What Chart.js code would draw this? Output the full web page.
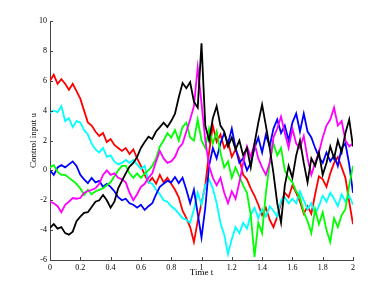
<!DOCTYPE html>
<html>
<head>
<meta charset="utf-8">
<script src="https://cdn.jsdelivr.net/npm/chart.js@4.4.1/dist/chart.umd.min.js"></script>
<style>
html,body{margin:0;padding:0;background:#fff;}
#c{display:block;}
</style>
</head>
<body>
<canvas id="c" width="390" height="293"></canvas>
<script>
const times = [0,0.025,0.05,0.075,0.1,0.125,0.15,0.175,0.2,0.225,0.25,0.275,0.3,0.325,0.35,0.375,0.4,0.425,0.45,0.475,0.5,0.525,0.55,0.575,0.6,0.625,0.65,0.675,0.7,0.725,0.75,0.775,0.8,0.825,0.85,0.875,0.9,0.925,0.95,0.975,1,1.025,1.05,1.075,1.1,1.125,1.15,1.175,1.2,1.225,1.25,1.275,1.3,1.325,1.35,1.375,1.4,1.425,1.45,1.475,1.5,1.525,1.55,1.575,1.6,1.625,1.65,1.675,1.7,1.725,1.75,1.775,1.8,1.825,1.85,1.875,1.9,1.925,1.95,1.975,2];

const redU = [6.0,6.4,5.8,6.1,5.8,5.4,5.8,5.3,4.8,4.0,3.2,3.0,2.6,2.3,2.5,1.9,2.1,1.7,1.5,1.3,1.5,1.1,1.4,0.8,0.3,-0.3,-0.8,-0.5,-0.9,-0.3,-0.8,-0.5,-0.9,-1.3,-1.8,-2.7,-3.2,-3.8,-4.8,-3.4,-2.2,
 -1.0,1.2,3.0,1.9,2.4,1.5,1.9,0.9,1.4,0.8,-0.3,-0.6,-1.2,-1.7,-2.3,-3.0,-2.5,-3.3,-3.8,-3.1,-2.2,-1.5,-1.8,-1.0,-1.5,-2.1,-2.9,-2.4,-2.9,-1.6,-0.4,-0.6,-1.1,-0.2,0.5,0.9,0.2,-0.5,-2.1,-3.6];

const cyanU = [3.9,4.0,3.9,4.3,3.3,3.5,2.9,3.3,3.2,2.7,2.4,1.8,1.4,1.2,1.5,0.9,1.0,0.6,0.4,0.5,0.7,0.5,0.7,0.4,0.1,0.3,-0.8,-0.9,-1.3,-1.6,-2.0,-2.1,-2.4,-2.6,-2.9,-3.2,-3.3,-3.5,-2.6,-1.5,-2.3,
 -1.0,-0.6,-1.2,-2.2,-3.5,-4.3,-5.6,-4.6,-3.8,-4.2,-3.5,-3.9,-3.0,-2.5,-3.2,-2.6,-3.1,-2.4,-2.7,-3.1,-2.0,-1.8,-2.2,-1.9,-2.2,-1.4,-2.0,-2.6,-2.2,-2.9,-2.4,-1.7,-2.1,-1.5,-1.9,-2.4,-1.6,-2.1,-1.7,-2.3];

const blueU = [0.0,-0.3,0.2,0.35,0.2,0.4,0.6,0.3,-0.3,-0.6,-0.85,-0.5,-0.8,-0.7,-1.1,-0.9,-1.1,-1.4,-1.8,-2.0,-1.9,-2.2,-2.3,-2.5,-2.3,-2.65,-2.4,-2.2,-1.6,-1.1,-0.9,-0.7,-0.8,-0.45,-0.85,-0.5,-1.3,-2.2,-1.3,-2.9,-4.5,
 -2.5,0.3,1.5,0.8,1.8,2.5,1.8,2.8,1.5,0.5,0.8,0.0,0.5,1.5,2.2,1.2,2.4,1.6,2.8,3.4,2.5,3.0,2.0,3.2,3.8,2.6,3.8,2.6,2.2,1.5,0.9,0.5,1.2,0.6,1.0,0.3,1.5,1.8,0.4,-1.5];

const magentaU = [-2.1,-2.2,-2.4,-2.8,-2.3,-2.1,-1.85,-1.9,-1.85,-1.5,-1.4,-1.3,-1.2,-0.9,-0.3,0.0,-0.3,-0.2,-0.5,-0.6,-0.8,-1.5,-2.0,-1.6,-1.1,-0.9,-0.5,-0.2,0.6,1.3,0.8,0.5,0.6,0.9,1.5,1.8,2.6,3.4,4.3,6.9,4.5,
 2.0,0.3,-0.5,-1.0,-0.5,-1.5,-2.2,-1.4,-1.9,-0.8,0.5,1.6,0.9,1.8,0.8,0.2,-0.3,0.5,2.2,2.8,3.6,2.5,1.5,2.8,1.8,1.5,2.3,0.8,-0.3,0.5,1.2,2.2,3.0,3.4,4.2,3.0,3.3,2.0,1.6,1.8];

const greenU = [0.2,0.35,-0.1,-0.3,-0.3,-0.5,-0.7,-0.9,-1.2,-1.65,-1.3,-1.6,-1.4,-1.3,-1.2,-1.0,-0.8,-0.4,0.0,0.3,0.3,-0.2,-0.5,-0.2,-0.5,-0.2,0.0,0.3,0.8,1.6,2.0,2.5,2.2,2.7,2.0,2.9,3.2,2.2,2.0,3.4,2.0,
 1.5,2.8,1.8,2.6,1.2,0.2,0.6,-0.5,0.2,-0.4,-1.0,-1.5,-3.0,-5.8,-3.5,-4.2,-1.5,0.5,1.8,1.0,1.5,0.0,-0.5,-0.8,-1.4,-1.8,-2.8,-3.4,-4.2,-2.6,-3.6,-2.8,-4.0,-4.8,-3.2,-3.8,-3.0,-2.6,-1.0,0.3];

const blackU = [-3.85,-3.6,-3.9,-3.8,-4.2,-4.3,-4.1,-3.4,-3.1,-2.85,-2.8,-2.45,-2.1,-2.0,-1.65,-2.0,-2.5,-2.1,-1.2,-0.7,-0.2,0.25,0.5,0.9,1.5,1.9,2.25,2.1,2.6,2.9,3.2,2.9,3.3,3.8,4.9,5.85,5.5,5.9,4.6,4.2,8.5,
 3.0,2.0,3.5,4.3,3.0,2.6,1.6,2.2,1.4,2.0,1.0,1.5,0.2,1.8,3.2,4.4,3.0,1.5,-0.2,-2.2,-3.5,-1.0,0.3,-0.5,1.0,2.0,0.5,-0.8,0.8,0.3,1.2,-0.3,0.5,1.6,0.8,2.0,1.2,2.5,3.4,1.6];

const xTickLabels = ['0','0.2','0.4','0.6','0.8','1','1.2','1.4','1.6','1.8','2'];
const yTickLabels = ['-6','-4','-2','0','2','4','6','8','10'];
const xTitle = 'Time t';
const yTitle = 'Control input u';

function pts(vals){ return times.map((t,i)=>({x:t,y:vals[i]})); }

const series = [
  {vals: blackU, color:'#000000'},
  {vals: magentaU, color:'#ff00ff'},
  {vals: greenU, color:'#00ff00'},
  {vals: blueU, color:'#0000ff'},
  {vals: cyanU, color:'#00ffff'},
  {vals: redU, color:'#ff0000'}
];

const inwardTicks = {
  id:'inwardTicks',
  afterDatasetsDraw(chart){
    const {ctx, chartArea, scales} = chart;
    const xs = scales.x, ys = scales.y;
    ctx.save();
    ctx.strokeStyle = '#444';
    ctx.lineWidth = 1;
    xs.ticks.forEach((t,i)=>{
      const px = Math.round(xs.getPixelForTick(i)) + 0.5;
      ctx.beginPath(); ctx.moveTo(px, chartArea.bottom); ctx.lineTo(px, chartArea.bottom - 3); ctx.stroke();
    });
    ys.ticks.forEach((t,i)=>{
      const py = Math.round(ys.getPixelForTick(i)) + 0.5;
      ctx.beginPath(); ctx.moveTo(chartArea.left, py); ctx.lineTo(chartArea.left + 3, py); ctx.stroke();
    });
    ctx.restore();
  }
};

const font = {family:'"Liberation Serif", "Times New Roman", serif', size:8};

new Chart(document.getElementById('c'), {
  type:'line',
  data:{
    datasets: series.map(s=>({
      data: pts(s.vals),
      borderColor: s.color,
      backgroundColor: s.color,
      borderWidth: 1.8,
      pointRadius: 0,
      tension: 0,
      fill: false
    }))
  },
  options:{
    responsive:false,
    animation:false,
    devicePixelRatio:1,
    layout:{padding:{left:0,right:37,top:21,bottom:0}},
    plugins:{legend:{display:false},tooltip:{enabled:false}},
    scales:{
      x:{
        type:'linear', min:0, max:2,
        ticks:{stepSize:0.2, color:'#000', font:font, padding:3, maxRotation:0, autoSkip:false,
          callback:(v,i)=>xTickLabels[i]},
        grid:{display:false, drawTicks:false},
        border:{display:true, color:'#444', width:1},
        title:{display:true, text:xTitle, color:'#000', font:{family:font.family,size:9}, padding:{top:0,bottom:15}},
        afterFit:(s)=>{s.height = 33;}
      },
      y:{
        type:'linear', min:-6, max:10,
        ticks:{stepSize:2, color:'#000', font:font, padding:3, autoSkip:false,
          callback:(v,i)=>yTickLabels[i]},
        grid:{display:false, drawTicks:false},
        border:{display:true, color:'#444', width:1},
        title:{display:true, text:yTitle, color:'#000', font:{family:font.family,size:9}, padding:{top:28,bottom:0}},
        afterFit:(s)=>{s.width = 50;}
      }
    }
  },
  plugins:[inwardTicks]
});
</script>
</body>
</html>
